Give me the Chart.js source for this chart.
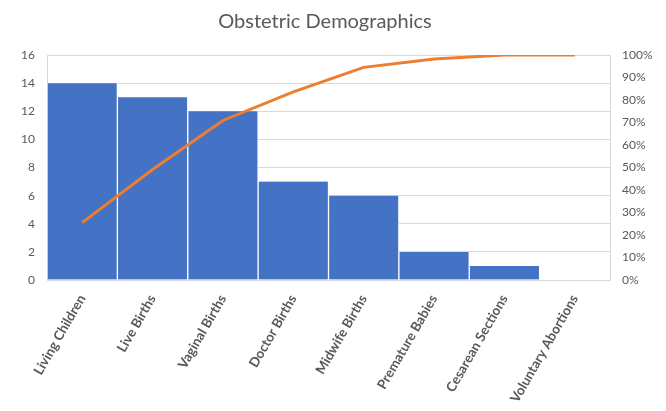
<!DOCTYPE html>
<html>
<head>
<meta charset="utf-8">
<script src="https://cdn.jsdelivr.net/npm/chart.js@4/dist/chart.umd.min.js"></script>
<style>
  html, body { margin: 0; padding: 0; background: #ffffff; }
  #wrap { width: 666px; height: 411px; }
</style>
</head>
<body>
<div id="wrap"><canvas id="c" width="666" height="411"></canvas></div>
<script>
// Pareto chart of obstetric history counts
const categories = ["Living Children", "Live Births", "Vaginal Births", "Doctor Births",
                    "Midwife Births", "Premature Babies", "Cesarean Sections", "Voluntary Abortions"];
const counts = [14, 13, 12, 7, 6, 2, 1, 0];
const cumulativePct = [25.5, 49.1, 70.9, 83.6, 94.5, 98.2, 100, 100];
const countTicks = [0, 2, 4, 6, 8, 10, 12, 14, 16];
const pctTicks = [0, 10, 20, 30, 40, 50, 60, 70, 80, 90, 100];
const chartTitle = "Obstetric Demographics";

const FONT = "Lato, 'Open Sans', sans-serif";
const TEXT = "#595959";
const GRID = "#d9d9d9";

// Title drawn slightly left of the canvas centre, above the plot area
const titlePlugin = {
  id: "titleText",
  afterDraw(chart) {
    const ctx = chart.ctx;
    ctx.save();
    ctx.fillStyle = TEXT;
    ctx.font = "20px " + FONT;
    ctx.textAlign = "center";
    ctx.textBaseline = "middle";
    ctx.fillText(chartTitle, 325, 22);
    ctx.restore();
  }
};

new Chart(document.getElementById("c"), {
  data: {
    labels: categories,
    datasets: [
      {
        type: "line",
        data: cumulativePct,
        yAxisID: "yPct",
        borderColor: "#ED7D31",
        borderWidth: 3,
        pointRadius: 0,
        tension: 0,
        order: 0
      },
      {
        type: "bar",
        data: counts,
        yAxisID: "y",
        backgroundColor: "#4472C4",
        borderColor: "#ffffff",
        borderWidth: { left: 1, right: 1, top: 0, bottom: 0 },
        borderSkipped: false,
        barPercentage: 1,
        categoryPercentage: 1,
        order: 1
      }
    ]
  },
  plugins: [titlePlugin],
  options: {
    responsive: false,
    animation: false,
    layout: { padding: { top: 55, left: 0, right: 0, bottom: 0 } },
    plugins: {
      legend: { display: false },
      tooltip: { enabled: false },
      title: { display: false }
    },
    scales: {
      x: {
        grid: { display: false, drawTicks: false },
        border: { display: true, color: GRID, width: 1 },
        ticks: {
          color: TEXT,
          font: { family: FONT, size: 13.5, weight: "bold" },
          minRotation: 60,
          maxRotation: 60,
          padding: 12,
          autoSkip: false
        },
        afterFit: (s) => { s.height = 131; }
      },
      y: {
        position: "left",
        min: 0,
        max: 16,
        afterBuildTicks: (s) => { s.ticks = countTicks.map(v => ({ value: v })); },
        grid: { color: GRID, drawTicks: false },
        border: { display: true, color: GRID },
        ticks: {
          color: TEXT,
          font: { family: FONT, size: 12 },
          padding: 12
        },
        afterFit: (s) => { s.width = 47; }
      },
      yPct: {
        position: "right",
        min: 0,
        max: 100,
        afterBuildTicks: (s) => { s.ticks = pctTicks.map(v => ({ value: v })); },
        grid: { display: false, drawTicks: false },
        border: { display: true, color: GRID },
        ticks: {
          color: TEXT,
          font: { family: FONT, size: 12 },
          padding: 12,
          callback: (v) => v + "%"
        },
        afterFit: (s) => { s.width = 56; }
      }
    }
  }
});
</script>
</body>
</html>
